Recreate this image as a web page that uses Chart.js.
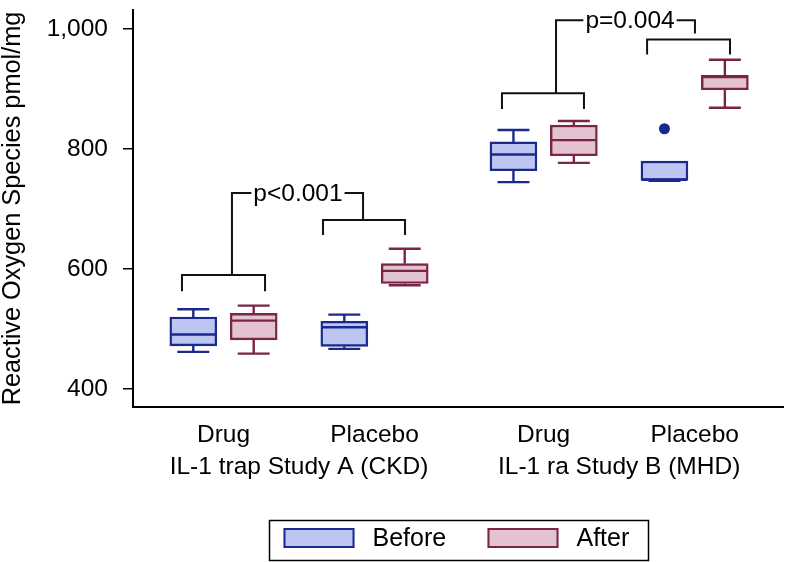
<!DOCTYPE html>
<html>
<head>
<meta charset="utf-8">
<script src="https://cdn.jsdelivr.net/npm/chart.js@4"></script>
<style>
  html, body { margin: 0; padding: 0; background: #fff; }
  canvas { display: block; }
</style>
</head>
<body>
<canvas id="myChart" width="787" height="562"></canvas>
<script>
// categories and where they sit on the x axis (study B is set a bit apart)
var groups = ['Drug', 'Placebo', 'Drug', 'Placebo'];
var groupPos = [1, 2, 3.12, 4.12];
var studies = ['IL-1 trap Study A (CKD)', 'IL-1 ra Study B (MHD)'];
var studyPos = [1.5, 3.62];
var yTicks = [400, 600, 800, 1000];

// box plot summaries (pmol/mg)
var beforeMin = [462, 467, 745, 747];
var beforeQ1  = [472, 471, 764, 748];
var beforeMed = [491, 503, 791, 749];
var beforeQ3  = [520, 513, 812, 780];
var beforeMax = [533, 524, 832, 780];
var beforeOut = [[], [], [], [834]];

var afterMin = [459, 573, 777, 869];
var afterQ1  = [482, 576, 789, 899];
var afterMed = [514, 597, 815, 920];
var afterQ3  = [526, 609, 840, 923];
var afterMax = [539, 634, 847, 949];
var afterOut = [[], [], [], []];

// significance brackets: [x from, x to, bracket level, leg end]
var pLabels = ['p<0.001', 'p=0.004'];
var pLabelX = [1.493, 3.692];
var linkTop = [727, 1015];
var drugBracket = [[0.725, 1.275, 590, 563], [2.844, 3.387, 893, 867]];
var placeboBracket = [[1.659, 2.202, 682, 657], [3.805, 4.354, 983, 958]];
var stemX = [[1.056, 1.924], [3.202, 4.122]];
var rightStemEnd = [682, 993];

var FONT = "'Liberation Sans', Arial, Helvetica, sans-serif";
var blue = '#1a2a8c', blueFill = '#bdc5f1';
var red = '#7a2447', redFill = '#e2c3cf';
var shift = 0.2;

var stats = [
  { min: beforeMin, q1: beforeQ1, med: beforeMed, q3: beforeQ3, max: beforeMax, out: beforeOut },
  { min: afterMin, q1: afterQ1, med: afterMed, q3: afterQ3, max: afterMax, out: afterOut }
];

function seg(ctx, x1, y1, x2, y2) {
  ctx.beginPath();
  ctx.moveTo(x1, y1);
  ctx.lineTo(x2, y2);
  ctx.stroke();
}

var boxPlugin = {
  id: 'boxes',
  afterDatasetsDraw: function(chart) {
    var ctx = chart.ctx, x = chart.scales.x, y = chart.scales.y;
    ctx.save();
    ctx.lineWidth = 2.4;
    ctx.lineCap = 'butt';

    // whiskers, caps, medians, outliers
    chart.data.datasets.forEach(function(ds, di) {
      var s = stats[di];
      chart.getDatasetMeta(di).data.forEach(function(bar, i) {
        var cx = bar.x, half = bar.width / 2, cap = half * 0.68;
        ctx.strokeStyle = ds.borderColor;
        var pMin = y.getPixelForValue(s.min[i]), pQ1 = y.getPixelForValue(s.q1[i]);
        var pQ3 = y.getPixelForValue(s.q3[i]), pMax = y.getPixelForValue(s.max[i]);
        var pMed = y.getPixelForValue(s.med[i]);
        if (s.max[i] > s.q3[i]) {
          seg(ctx, cx, pQ3, cx, pMax);
          seg(ctx, cx - cap, pMax, cx + cap, pMax);
        }
        if (s.min[i] < s.q1[i]) {
          seg(ctx, cx, pQ1, cx, pMin);
          seg(ctx, cx - cap, pMin, cx + cap, pMin);
        }
        seg(ctx, cx - half + 1, pMed, cx + half - 1, pMed);
        ctx.fillStyle = ds.borderColor;
        s.out[i].forEach(function(v) {
          ctx.beginPath();
          ctx.arc(cx, y.getPixelForValue(v), 5.5, 0, Math.PI * 2);
          ctx.fill();
        });
      });
    });

    // brackets with p values
    ctx.strokeStyle = '#111';
    ctx.lineWidth = 2;
    ctx.fillStyle = '#000';
    ctx.font = '24.5px ' + FONT;
    ctx.textAlign = 'center';
    ctx.textBaseline = 'middle';
    function bracket(b) {
      var X0 = x.getPixelForValue(b[0]), X1 = x.getPixelForValue(b[1]);
      var Y = y.getPixelForValue(b[2]), L = y.getPixelForValue(b[3]);
      ctx.beginPath();
      ctx.moveTo(X0, L); ctx.lineTo(X0, Y); ctx.lineTo(X1, Y); ctx.lineTo(X1, L);
      ctx.stroke();
    }
    for (var k = 0; k < pLabels.length; k++) {
      bracket(drugBracket[k]);
      bracket(placeboBracket[k]);
      var top = y.getPixelForValue(linkTop[k]);
      var sL = x.getPixelForValue(stemX[k][0]), sR = x.getPixelForValue(stemX[k][1]);
      var tx = x.getPixelForValue(pLabelX[k]);
      var tw = ctx.measureText(pLabels[k]).width;
      ctx.beginPath();
      ctx.moveTo(sL, y.getPixelForValue(drugBracket[k][2]));
      ctx.lineTo(sL, top);
      ctx.lineTo(tx - tw / 2 - 2, top);
      ctx.stroke();
      ctx.beginPath();
      ctx.moveTo(tx + tw / 2 + 2, top);
      ctx.lineTo(sR, top);
      ctx.lineTo(sR, y.getPixelForValue(rightStemEnd[k]));
      ctx.stroke();
      ctx.fillText(pLabels[k], tx, top + 1);
    }
    ctx.restore();
  },
  afterDraw: function(chart) {
    // framed legend below the axis labels
    var ctx = chart.ctx, area = chart.chartArea;
    var w = 379, h = 40;
    var left = Math.round((area.left + area.right) / 2 - w / 2) + 0.5;
    var top = chart.height - h - 1.5;
    ctx.save();
    ctx.strokeStyle = '#000';
    ctx.lineWidth = 1.5;
    ctx.strokeRect(left, top, w, h);
    var items = [
      { text: 'Before', fill: blueFill, stroke: blue, at: 14 },
      { text: 'After', fill: redFill, stroke: red, at: 218 }
    ];
    ctx.font = '25px ' + FONT;
    ctx.textBaseline = 'middle';
    ctx.textAlign = 'left';
    items.forEach(function(it) {
      var bx = left + it.at, by = top + 7.5;
      ctx.fillStyle = it.fill;
      ctx.fillRect(bx, by, 71, 20);
      ctx.strokeStyle = it.stroke;
      ctx.lineWidth = 2;
      ctx.strokeRect(bx + 1, by + 1, 69, 18);
      ctx.fillStyle = '#000';
      ctx.fillText(it.text, bx + 89, top + h / 2 - 1);
    });
    ctx.restore();
  }
};

var ctx = document.getElementById('myChart').getContext('2d');
var myChart = new Chart(ctx, {
  type: 'bar',
  data: {
    datasets: [
      {
        label: 'Before',
        data: groupPos.map(function(p, i) { return { x: p - shift, y: [beforeQ1[i], beforeQ3[i]] }; }),
        backgroundColor: blueFill,
        borderColor: blue,
        borderWidth: 2.4,
        borderSkipped: false,
        barThickness: 47,
        grouped: false
      },
      {
        label: 'After',
        data: groupPos.map(function(p, i) { return { x: p + shift, y: [afterQ1[i], afterQ3[i]] }; }),
        backgroundColor: redFill,
        borderColor: red,
        borderWidth: 2.4,
        borderSkipped: false,
        barThickness: 47,
        grouped: false
      }
    ]
  },
  options: {
    responsive: false,
    animation: false,
    devicePixelRatio: 1,
    layout: { padding: { top: 10, right: 4, bottom: 79, left: 0 } },
    plugins: {
      legend: { display: false },
      tooltip: { enabled: false }
    },
    scales: {
      x: {
        type: 'linear',
        position: 'bottom',
        min: 0.4007,
        max: 4.705,
        offset: false,
        grid: { display: false, drawTicks: false },
        border: { display: true, color: '#000', width: 2 },
        afterBuildTicks: function(s) { s.ticks = groupPos.map(function(v) { return { value: v }; }); },
        afterFit: function(s) { s.height = 46; s.paddingLeft = 0; s.paddingRight = 0; },
        ticks: {
          autoSkip: false,
          maxRotation: 0,
          padding: 14,
          color: '#000',
          font: { family: FONT, size: 24.5 },
          callback: function(v, i) { return groups[i]; }
        }
      },
      x2: {
        type: 'linear',
        position: 'bottom',
        min: 0.4007,
        max: 4.705,
        offset: false,
        grid: { display: false, drawTicks: false },
        border: { display: false },
        afterBuildTicks: function(s) { s.ticks = studyPos.map(function(v) { return { value: v }; }); },
        afterFit: function(s) { s.height = 30; s.paddingLeft = 0; s.paddingRight = 0; },
        ticks: {
          autoSkip: false,
          maxRotation: 0,
          padding: 0,
          color: '#000',
          font: { family: FONT, size: 24.5 },
          callback: function(v, i) { return studies[i]; }
        }
      },
      y: {
        type: 'linear',
        min: 370,
        max: 1032,
        grid: { drawOnChartArea: false, drawTicks: true, tickLength: 10, color: '#000', lineWidth: 1.5 },
        border: { display: true, color: '#000', width: 2 },
        afterBuildTicks: function(s) { s.ticks = yTicks.map(function(v) { return { value: v }; }); },
        afterFit: function(s) { s.width = 133; s.paddingTop = 0; s.paddingBottom = 0; },
        ticks: {
          padding: 15,
          color: '#000',
          font: { family: FONT, size: 24.5 }
        },
        title: {
          display: true,
          text: 'Reactive Oxygen Species pmol/mg',
          color: '#000',
          font: { family: FONT, size: 25.3, lineHeight: 1 },
          padding: { top: 0, bottom: 0 }
        }
      }
    }
  },
  plugins: [boxPlugin]
});
</script>
</body>
</html>
